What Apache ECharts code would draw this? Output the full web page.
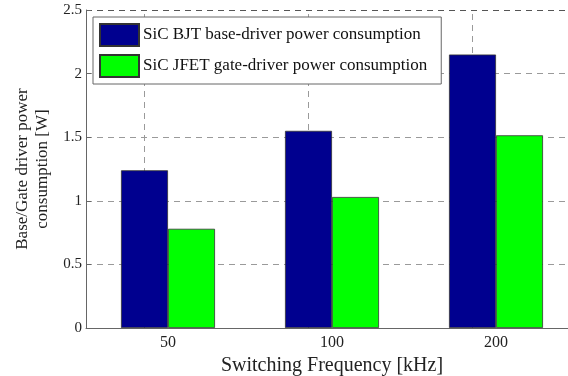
<!DOCTYPE html>
<html>
<head>
<meta charset="utf-8">
<script src="https://cdn.jsdelivr.net/npm/echarts@6/dist/echarts.min.js"></script>
<style>
  html, body { margin: 0; padding: 0; background: #fff; }
  #chart { width: 568px; height: 376px; }
</style>
</head>
<body>
<div id="chart"></div>
<script>
  'use strict'
	/* data */
	var categories = ['50', '100', '200'];
	var bjtValues = [1.24, 1.55, 2.15];
	var jfetValues = [0.78, 1.03, 1.515];
	var yTicks = [0, 0.5, 1, 1.5, 2, 2.5];

	var serif = '"Liberation Serif", "DejaVu Serif", serif';
	var gridColor = '#9a9a9a';

	var chart = echarts.init(document.getElementById('chart'));
	chart.setOption({
		animation: false,
		textStyle: { fontFamily: serif },
		grid: {
			left: 86,
			top: 10,
			bottom: 48,
			width: 492,
			outerBoundsMode: 'none',
			containLabel: false
		},
		legend: {
			orient: 'vertical',
			left: 93,
			top: 17,
			padding: [6, 14, 6, 6],
			icon: 'rect',
			itemWidth: 39,
			itemHeight: 22,
			itemGap: 7,
			borderColor: '#666',
			borderWidth: 1,
			backgroundColor: '#fff',
			textStyle: { fontFamily: serif, fontSize: 17, color: '#111', padding: [0, 0, 0, -1] },
			data: ['SiC BJT base-driver power consumption', 'SiC JFET gate-driver power consumption']
		},
		xAxis: {
			type: 'category',
			data: categories,
			name: 'Switching Frequency [kHz]',
			nameLocation: 'middle',
			nameGap: 25,
			nameTextStyle: { fontFamily: serif, fontSize: 20, color: '#222' },
			axisLine: { lineStyle: { color: '#666', width: 1 } },
			axisTick: { alignWithLabel: true, inside: true, length: 5, lineStyle: { color: '#666' } },
			axisLabel: { fontFamily: serif, fontSize: 16, color: '#222', margin: 7 },
			splitLine: { show: false }
		},
		yAxis: {
			type: 'value',
			min: 0,
			max: 2.5,
			interval: 0.5,
			name: 'Base/Gate driver power\nconsumption [W]',
			nameLocation: 'middle',
			nameGap: 32,
			nameTextStyle: { fontFamily: serif, fontSize: 17, color: '#222', lineHeight: 20 },
			axisLine: { show: true, lineStyle: { color: '#666', width: 1 } },
			axisTick: { show: true, inside: true, length: 5, lineStyle: { color: '#666' } },
			axisLabel: {
				fontFamily: serif, fontSize: 15, color: '#222', margin: 4,
				formatter: function (v) { return yTicks.indexOf(v) >= 0 ? String(v) : ''; }
			},
			splitLine: {
				show: true,
				lineStyle: {
					color: [gridColor, gridColor, gridColor, gridColor, gridColor, '#555'],
					type: [6, 5],
					width: 1
				}
			}
		},
		series: [{
			name: 'SiC BJT base-driver power consumption',
			type: 'bar',
			data: bjtValues,
			barWidth: 47,
			barGap: '0%',
			itemStyle: { color: '#00008f', borderColor: '#333', borderWidth: 0.8 },
			markLine: {
				z: 1,
				silent: true,
				symbol: 'none',
				label: { show: false },
				lineStyle: { color: gridColor, type: [6, 5], width: 1 },
				data: categories.map(function (c) { return { xAxis: c }; })
			}
		}, {
			name: 'SiC JFET gate-driver power consumption',
			type: 'bar',
			data: jfetValues,
			barWidth: 47,
			barGap: '0%',
			itemStyle: { color: '#00ff00', borderColor: '#333', borderWidth: 0.8 }
		}]
	});
</script>
</body>
</html>
